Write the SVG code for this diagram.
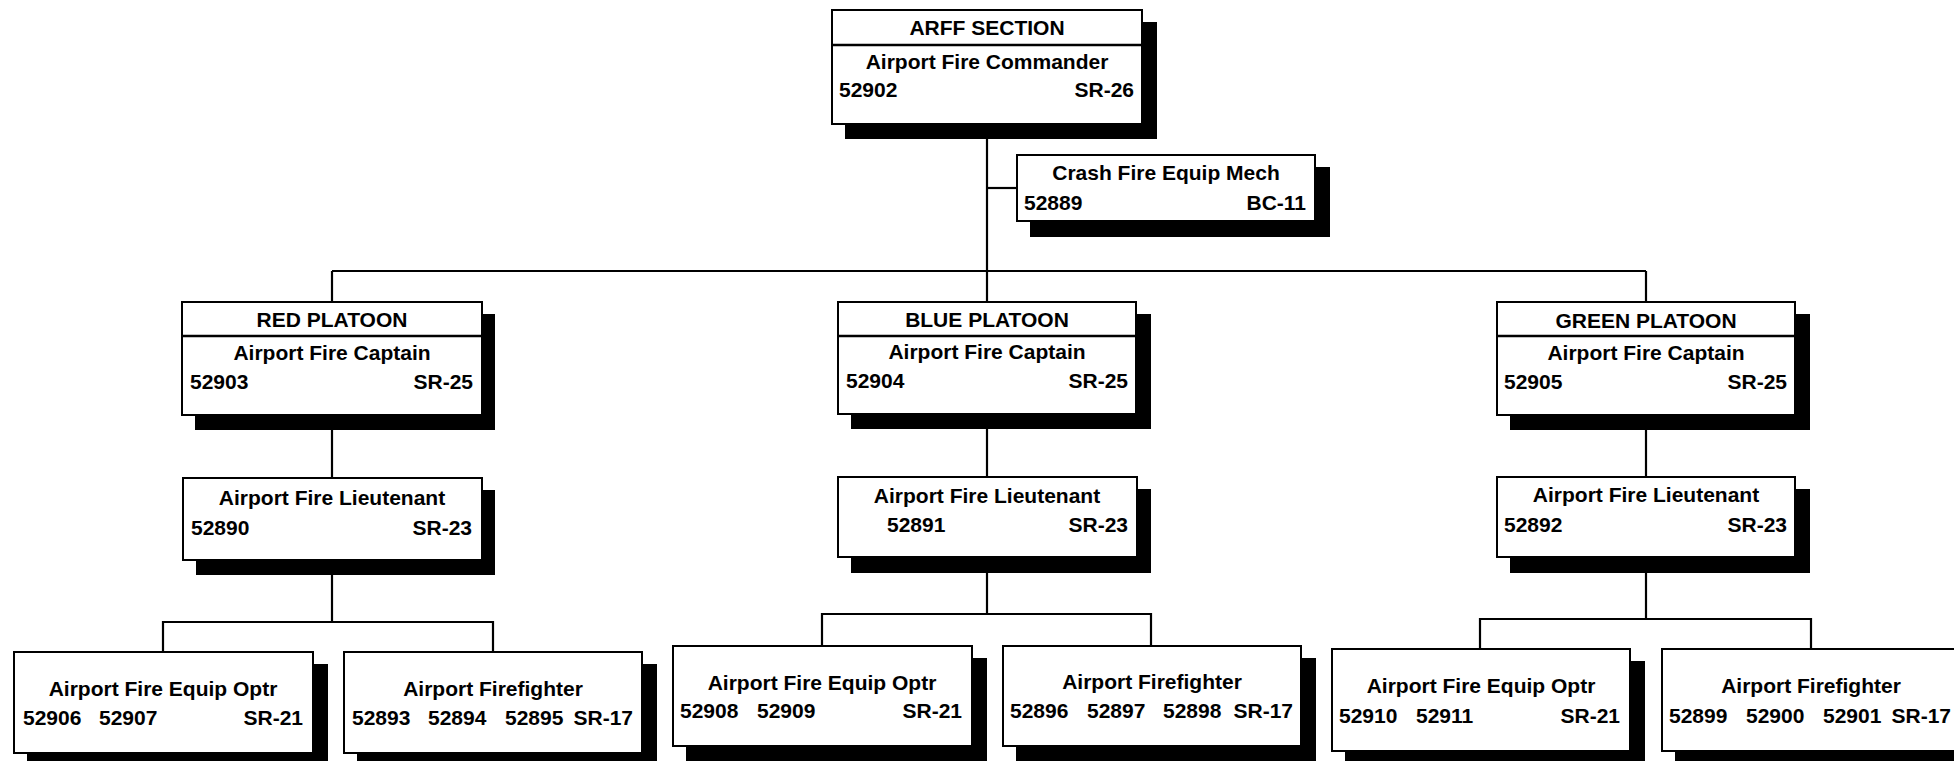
<svg xmlns="http://www.w3.org/2000/svg" width="1954" height="761" viewBox="0 0 1954 761">
<style>
.bg{fill:#fff}
.sh{fill:#000}
.bx{fill:#fff;stroke:#000;stroke-width:2}
.dv{stroke:#000;stroke-width:2.5}
.ln{stroke:#000;stroke-width:2.2;fill:none}
text{font-family:"Liberation Sans",Arial,sans-serif;font-weight:bold;font-size:21px;fill:#000}
.c{text-anchor:middle}
.r{text-anchor:end}
</style>
<rect class="bg" x="0" y="0" width="1954" height="761"/>
<g id="connectors">
<line class="ln" x1="987" y1="124" x2="987" y2="302"/>
<line class="ln" x1="987" y1="188" x2="1017" y2="188"/>
<line class="ln" x1="332" y1="271" x2="1646" y2="271"/>
<line class="ln" x1="332" y1="271" x2="332" y2="302"/>
<line class="ln" x1="1646" y1="271" x2="1646" y2="302"/>
<line class="ln" x1="332" y1="415" x2="332" y2="478"/>
<line class="ln" x1="987" y1="414" x2="987" y2="477"/>
<line class="ln" x1="1646" y1="415" x2="1646" y2="477"/>
<polyline class="ln" points="332,560 332,622"/>
<polyline class="ln" points="163,652 163,622 493,622 493,652"/>
<polyline class="ln" points="987,557 987,614"/>
<polyline class="ln" points="822,646 822,614 1151,614 1151,646"/>
<polyline class="ln" points="1646,557 1646,619"/>
<polyline class="ln" points="1480,649 1480,619 1811,619 1811,649"/>
</g>
<g id="arff">
<rect class="sh" x="845" y="22" width="312" height="117"/>
<rect class="bx" x="832" y="10" width="310" height="114"/>
<line class="dv" x1="832" y1="45" x2="1142" y2="45"/>
<text class="c" x="987" y="35">ARFF SECTION</text>
<text class="c" x="987" y="69">Airport Fire Commander</text>
<text x="839" y="97">52902</text>
<text class="r" x="1134" y="97">SR-26</text>
</g>
<g id="crash">
<rect class="sh" x="1030" y="167" width="300" height="70"/>
<rect class="bx" x="1017" y="155" width="298" height="66"/>
<text class="c" x="1166" y="180">Crash Fire Equip Mech</text>
<text x="1024" y="210">52889</text>
<text class="r" x="1306" y="210">BC-11</text>
</g>
<g id="red-platoon">
<rect class="sh" x="195" y="314" width="300" height="116"/>
<rect class="bx" x="182" y="302" width="300" height="113"/>
<line class="dv" x1="182" y1="336" x2="482" y2="336"/>
<text class="c" x="332" y="327">RED PLATOON</text>
<text class="c" x="332" y="360">Airport Fire Captain</text>
<text x="190" y="389">52903</text>
<text class="r" x="473" y="389">SR-25</text>
</g>
<g id="blue-platoon">
<rect class="sh" x="851" y="314" width="300" height="115"/>
<rect class="bx" x="838" y="302" width="298" height="112"/>
<line class="dv" x1="838" y1="336" x2="1136" y2="336"/>
<text class="c" x="987" y="327">BLUE PLATOON</text>
<text class="c" x="987" y="359">Airport Fire Captain</text>
<text x="846" y="388">52904</text>
<text class="r" x="1128" y="388">SR-25</text>
</g>
<g id="green-platoon">
<rect class="sh" x="1510" y="314" width="300" height="116"/>
<rect class="bx" x="1497" y="302" width="298" height="113"/>
<line class="dv" x1="1497" y1="336" x2="1795" y2="336"/>
<text class="c" x="1646" y="328">GREEN PLATOON</text>
<text class="c" x="1646" y="360">Airport Fire Captain</text>
<text x="1504" y="389">52905</text>
<text class="r" x="1787" y="389">SR-25</text>
</g>
<g id="red-lieutenant">
<rect class="sh" x="196" y="490" width="299" height="85"/>
<rect class="bx" x="183" y="478" width="299" height="82"/>
<text class="c" x="332" y="505">Airport Fire Lieutenant</text>
<text x="191" y="535">52890</text>
<text class="r" x="472" y="535">SR-23</text>
</g>
<g id="blue-lieutenant">
<rect class="sh" x="851" y="489" width="300" height="84"/>
<rect class="bx" x="838" y="477" width="299" height="80"/>
<text class="c" x="987" y="503">Airport Fire Lieutenant</text>
<text x="887" y="532">52891</text>
<text class="r" x="1128" y="532">SR-23</text>
</g>
<g id="green-lieutenant">
<rect class="sh" x="1510" y="489" width="300" height="84"/>
<rect class="bx" x="1497" y="477" width="298" height="80"/>
<text class="c" x="1646" y="502">Airport Fire Lieutenant</text>
<text x="1504" y="532">52892</text>
<text class="r" x="1787" y="532">SR-23</text>
</g>
<g id="red-equip">
<rect class="sh" x="27" y="664" width="301" height="104"/>
<rect class="bx" x="14" y="652" width="299" height="101"/>
<text class="c" x="163" y="696">Airport Fire Equip Optr</text>
<text x="23" y="725">52906</text>
<text x="99" y="725">52907</text>
<text class="r" x="303" y="725">SR-21</text>
</g>
<g id="red-firefighter">
<rect class="sh" x="357" y="664" width="300" height="104"/>
<rect class="bx" x="344" y="652" width="298" height="101"/>
<text class="c" x="493" y="696">Airport Firefighter</text>
<text x="352" y="725">52893</text>
<text x="428" y="725">52894</text>
<text x="505" y="725">52895</text>
<text class="r" x="633" y="725">SR-17</text>
</g>
<g id="blue-equip">
<rect class="sh" x="686" y="658" width="301" height="104"/>
<rect class="bx" x="673" y="646" width="299" height="100"/>
<text class="c" x="822" y="690">Airport Fire Equip Optr</text>
<text x="680" y="718">52908</text>
<text x="757" y="718">52909</text>
<text class="r" x="962" y="718">SR-21</text>
</g>
<g id="blue-firefighter">
<rect class="sh" x="1016" y="658" width="300" height="104"/>
<rect class="bx" x="1003" y="646" width="298" height="100"/>
<text class="c" x="1152" y="689">Airport Firefighter</text>
<text x="1010" y="718">52896</text>
<text x="1087" y="718">52897</text>
<text x="1163" y="718">52898</text>
<text class="r" x="1293" y="718">SR-17</text>
</g>
<g id="green-equip">
<rect class="sh" x="1345" y="661" width="300" height="104"/>
<rect class="bx" x="1332" y="649" width="298" height="102"/>
<text class="c" x="1481" y="693">Airport Fire Equip Optr</text>
<text x="1339" y="723">52910</text>
<text x="1416" y="723">52911</text>
<text class="r" x="1620" y="723">SR-21</text>
</g>
<g id="green-firefighter">
<rect class="sh" x="1675" y="661" width="300" height="104"/>
<rect class="bx" x="1662" y="649" width="298" height="102"/>
<text class="c" x="1811" y="693">Airport Firefighter</text>
<text x="1669" y="723">52899</text>
<text x="1746" y="723">52900</text>
<text x="1823" y="723">52901</text>
<text class="r" x="1951" y="723">SR-17</text>
</g>
</svg>
